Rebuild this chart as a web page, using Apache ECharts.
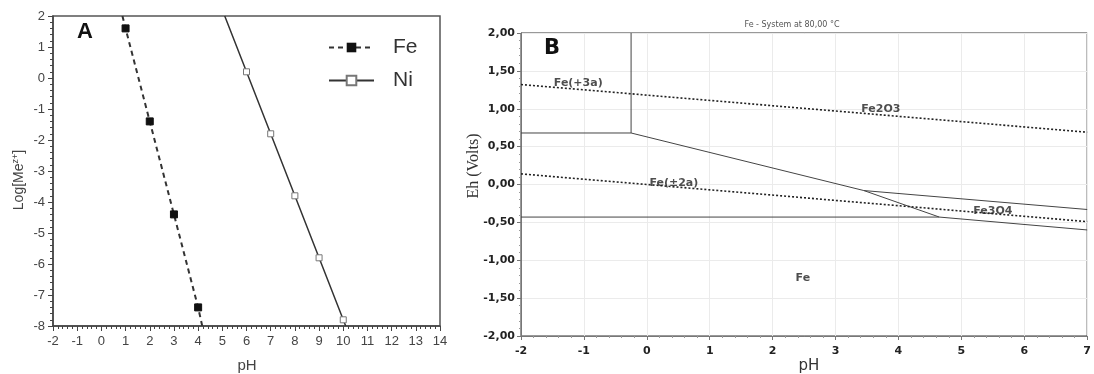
<!DOCTYPE html>
<html><head><meta charset="utf-8">
<script src="https://cdn.jsdelivr.net/npm/echarts@6/dist/echarts.min.js"></script>
<style>html,body{margin:0;padding:0;background:#fff}#c{width:1094px;height:374px}</style>
</head><body><div id="c"></div>
<script>
// ---------- Panel A data ----------
const feX = [1, 2, 3, 4];
const feY = [1.6, -1.4, -4.4, -7.4];
const feFitX = [0.87, 4.17];   // fitted dashed line end points
const feFitY = [2, -8];
const niX = [6, 7, 8, 9, 10];
const niY = [0.2, -1.8, -3.8, -5.8, -7.8];
const niFitX = [5.1, 10.1];
const niFitY = [2, -8];
const xTicksA = [-2, 14];
const yTicksA = [-8, 2];

// ---------- Panel B data (Eh-pH diagram boundaries) ----------
const boxV = [[-0.25, 2.0], [-0.25, 0.68]];
const boxH = [[-2, 0.68], [-0.25, 0.68]];
const steepLine = [[-0.25, 0.68], [3.45, -0.08], [4.65, -0.43]];
const fe3o4Upper = [[3.45, -0.08], [7, -0.33]];
const fe3o4Lower = [[4.65, -0.43], [7, -0.60]];
const feHoriz = [[-2, -0.43], [4.65, -0.43]];
const waterUpper = [[-2, 1.32], [7, 0.69]];
const waterLower = [[-2, 0.14], [7, -0.49]];
const regionNames = ['Fe(+3a)', 'Fe2O3', 'Fe(\u00b12a)', 'Fe3O4', 'Fe'];
const regionPH = [-1.09, 3.72, 0.43, 5.5, 2.48];
const regionEh = [1.34, 1.0, 0.02, -0.35, -1.23];
const xTicksB = [-2, 7];
const yTicksB = [-2, 2];

function withEnds(xs, ys, fx, fy) {
  const d = [{value: [fx[0], fy[0]], symbol: 'none'}];
  xs.forEach((x, i) => d.push([x, ys[i]]));
  d.push({value: [fx[1], fy[1]], symbol: 'none'});
  return d;
}
function bLine(data, dotted) {
  return {type: 'line', xAxisIndex: 1, yAxisIndex: 1, data: data, symbol: 'none', silent: true,
    lineStyle: dotted ? {color: '#222', width: 1.6, type: [2, 2]} : {color: '#444', width: 1}, z: 3};
}

const chart = echarts.init(document.getElementById('c'), null, {renderer: 'canvas'});
const aFont = 'Liberation Sans, Arial, sans-serif';
const bFont = 'DejaVu Sans, Verdana, sans-serif';

chart.setOption({
  animation: false,
  grid: [
    {left: 53, top: 16, width: 387, height: 310, show: true, borderColor: '#555', borderWidth: 1.5},
    {left: 521, top: 33, width: 571, height: 303, show: true, borderColor: '#333', borderWidth: 1}
  ],
  legend: {
    orient: 'vertical', left: 323, top: 32, itemWidth: 45, itemHeight: 12, itemGap: 12,
    data: ['Fe', 'Ni'],
    textStyle: {fontSize: 21, color: '#333', fontFamily: aFont, padding: [0, 0, 0, 14]}
  },
  xAxis: [
    {gridIndex: 0, type: 'value', min: xTicksA[0], max: xTicksA[1], interval: 1,
      axisLine: {onZero: false, lineStyle: {color: '#444', width: 1.5}},
      axisTick: {show: true, length: 5, lineStyle: {color: '#444'}},
      minorTick: {show: true, splitNumber: 5, length: 3, lineStyle: {color: '#444'}},
      splitLine: {show: false},
      axisLabel: {color: '#444', fontSize: 13, fontFamily: aFont, margin: 9}},
    {gridIndex: 1, type: 'value', min: xTicksB[0], max: xTicksB[1], interval: 1,
      axisLine: {onZero: false, lineStyle: {color: '#777', width: 1}},
      axisTick: {show: true, length: 4, lineStyle: {color: '#777'}},
      minorTick: {show: true, splitNumber: 5, length: 2, lineStyle: {color: '#999'}},
      splitLine: {show: true, lineStyle: {color: '#ebebeb'}},
      axisLabel: {color: '#222', fontSize: 11, fontWeight: 'bold', fontFamily: bFont, margin: 10}}
  ],
  yAxis: [
    {gridIndex: 0, type: 'value', min: yTicksA[0], max: yTicksA[1], interval: 1,
      axisLine: {onZero: false, lineStyle: {color: '#444', width: 1.5}},
      axisTick: {show: true, length: 5, lineStyle: {color: '#444'}},
      minorTick: {show: true, splitNumber: 5, length: 3, lineStyle: {color: '#444'}},
      splitLine: {show: false},
      axisLabel: {color: '#444', fontSize: 13, fontFamily: aFont, margin: 8}},
    {gridIndex: 1, type: 'value', min: yTicksB[0], max: yTicksB[1], interval: 0.5,
      axisLine: {onZero: false, lineStyle: {color: '#777', width: 1}},
      axisTick: {show: true, length: 4, lineStyle: {color: '#777'}},
      minorTick: {show: true, splitNumber: 5, length: 2, lineStyle: {color: '#999'}},
      splitLine: {show: true, lineStyle: {color: '#ebebeb'}},
      axisLabel: {color: '#222', fontSize: 11, fontWeight: 'bold', fontFamily: bFont, margin: 6,
        formatter: v => v.toFixed(2).replace('.', ',')}}
  ],
  series: [
    {name: 'Fe', type: 'line', xAxisIndex: 0, yAxisIndex: 0, data: withEnds(feX, feY, feFitX, feFitY),
      symbol: 'rect', symbolSize: 7, showAllSymbol: true,
      itemStyle: {color: '#111', borderColor: '#111'},
      lineStyle: {color: '#333', width: 2, type: [5, 4]}, z: 3},
    {name: 'Ni', type: 'line', xAxisIndex: 0, yAxisIndex: 0, data: withEnds(niX, niY, niFitX, niFitY),
      symbol: 'rect', symbolSize: 6, showAllSymbol: true,
      itemStyle: {color: '#fff', borderColor: '#777', borderWidth: 1},
      lineStyle: {color: '#333', width: 1.5}, z: 3},
    bLine(boxV, false), bLine(boxH, false), bLine(steepLine, false),
    bLine(fe3o4Upper, false), bLine(fe3o4Lower, false), bLine(feHoriz, false),
    bLine(waterUpper, true), bLine(waterLower, true),
    {type: 'scatter', xAxisIndex: 1, yAxisIndex: 1, symbolSize: 0, silent: true, z: 5,
      data: regionNames.map((n, i) => ({name: n, value: [regionPH[i], regionEh[i]]})),
      label: {show: true, position: 'inside', formatter: p => p.name, color: '#222',
        fontSize: 11, fontWeight: 'bold', fontFamily: bFont}}
  ],
  graphic: [
    {type: 'text', left: 77, top: 21, style: {text: 'A', font: 'bold 22px ' + aFont, fill: '#111'}},
    {type: 'text', left: 544, top: 38, style: {text: 'B', font: 'bold 21px ' + bFont, fill: '#111'}},
    {type: 'text', x: 792, y: 25, style: {text: 'Fe - System at 80,00 \u00b0C', font: '8px ' + bFont,
      fill: '#555', align: 'center', verticalAlign: 'middle'}},
    {type: 'text', x: 247, y: 366, style: {text: 'pH', font: '15px ' + aFont, fill: '#444',
      align: 'center', verticalAlign: 'middle'}},
    {type: 'text', x: 809, y: 366, style: {text: 'pH', font: '15px ' + bFont, fill: '#333',
      align: 'center', verticalAlign: 'middle'}},
    {type: 'text', x: 19, y: 180, rotation: Math.PI / 2,
      style: {text: 'Log[Me{s|z+}]', font: '14px ' + aFont, fill: '#444', align: 'center', verticalAlign: 'middle',
        rich: {s: {fontSize: 9, verticalAlign: 'top', padding: [0, 0, 7, 0], fill: '#444', fontFamily: aFont}}}},
    {type: 'text', x: 474, y: 166, rotation: Math.PI / 2,
      style: {text: 'Eh (Volts)', font: '16px Liberation Serif, Times New Roman, serif', fill: '#333',
        align: 'center', verticalAlign: 'middle'}}
  ]
});
</script></body></html>
